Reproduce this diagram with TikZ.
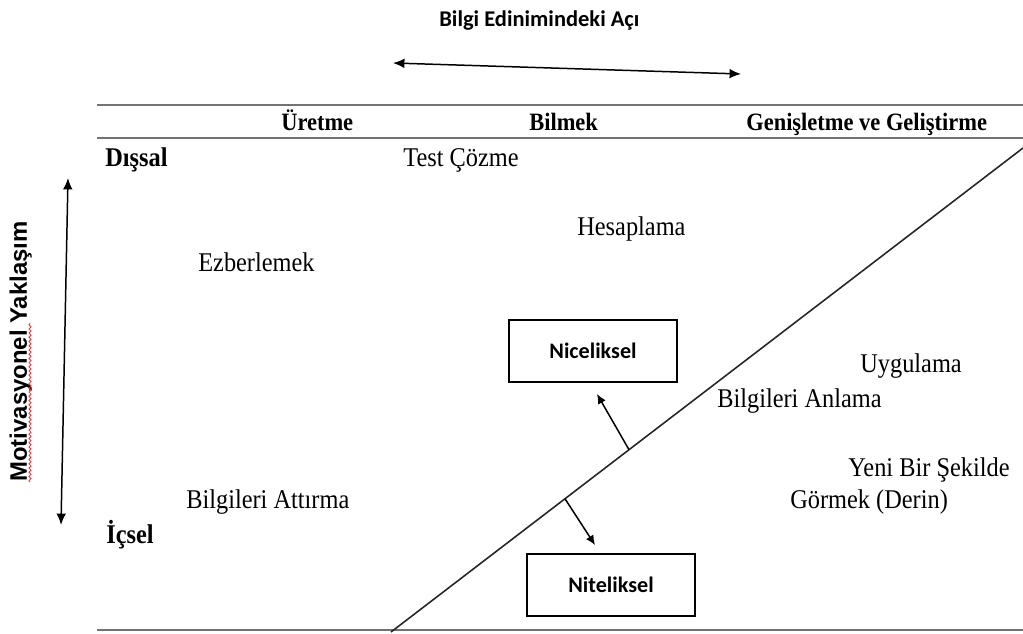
\documentclass[tikz,border=0pt]{standalone}
\usepackage{fontspec}
\setmainfont{Liberation Serif}
\newfontfamily\calibfont{Carlito}
\newfontfamily\arialfont{Liberation Sans}
\usetikzlibrary{arrows.meta,decorations.pathmorphing,calc}

\begin{document}
\begin{tikzpicture}[x=0.02cm,y=-0.02cm,
  txt/.style={font=\fontsize{15.4}{17}\selectfont, xscale=0.9, inner sep=0pt, anchor=base west},
  hdr/.style={font=\fontsize{14.2}{16}\selectfont\bfseries, xscale=0.9, inner sep=0pt, anchor=base west},
  rowlbl/.style={font=\fontsize{15.4}{17}\selectfont\bfseries, xscale=0.9, inner sep=0pt, anchor=base west},
  ttl/.style={font=\calibfont\fontsize{12.8}{15}\selectfont\bfseries, inner sep=0pt, anchor=base west},
  catbox/.style={draw, line width=0.75pt, minimum width=3.36cm, minimum height=1.24cm,
    inner sep=0pt, font=\calibfont\fontsize{12.6}{15}\selectfont\bfseries},
  rule/.style={draw=black!55, line width=1.1pt},
  dbl/.style={line width=0.85pt, {Latex[length=6.5pt,width=5.5pt]}-{Latex[length=6.5pt,width=5.5pt]}},
  arr/.style={line width=0.85pt, -{Latex[length=5.5pt,width=5pt]}}
]
\useasboundingbox (0,0) rectangle (1023,634);

% title and horizontal axis arrow
\node[ttl] (title) at (439,27) {Bilgi Edinimindeki Açı};
\coordinate (hL) at (393,63);
\coordinate (hR) at (741,74);
\draw[dbl] (hL) -- (hR);

% table rules
\coordinate (r1a) at (97,105);  \coordinate (r1b) at (1023,105);
\coordinate (r2a) at (97,138);  \coordinate (r2b) at (1023,138);
\coordinate (r3a) at (97,630);  \coordinate (r3b) at (1023,630);
\draw[rule] (r1a) -- (r1b);
\draw[rule] (r2a) -- (r2b);
\draw[rule] (r3a) -- (r3b);

% column headers
\node[hdr] (h1) at (281,131) {Üretme};
\node[hdr] (h2) at (529,131) {Bilmek};
\node[hdr] (h3) at (746,131) {Genişletme ve Geliştirme};

% row labels
\node[rowlbl] (dis) at (105,167) {Dışsal};
\node[rowlbl] (ic) at (106,543) {İçsel};

% vertical axis arrow and its label
\coordinate (vT) at (68,178);
\coordinate (vB) at (61,525);
\draw[dbl] (vT) -- (vB);
\node[font=\arialfont\fontsize{13.6}{16}\selectfont\bfseries, inner sep=0pt,
      rotate=90, anchor=base west] (mot) at (27,482) {Motivasyonel Yaklaşım};
\coordinate (sqA) at (30,482);
\coordinate (sqB) at (30,323);
\draw[red!85, line width=0.45pt, decorate,
      decoration={snake, amplitude=0.6pt, segment length=2.4pt}] (sqA) -- (sqB);

% activities
\node[txt] (test) at (403,167) {Test Çözme};
\node[txt] (hes) at (577,236) {Hesaplama};
\node[txt] (ezb) at (198,272) {Ezberlemek};
\node[txt] (att) at (186,508) {Bilgileri Attırma};
\node[txt] (uyg) at (860,373) {Uygulama};
\node[txt] (anl) at (717,407) {Bilgileri Anlama};
\node[txt] (yen) at (848,476) {Yeni Bir Şekilde};
\node[txt] (gor) at (790,508) {Görmek (Derin)};

% dividing diagonal
\coordinate (dA) at (391,632);
\coordinate (dB) at (1023,148);
\draw[line width=0.9pt, black!85] (dA) -- (dB);

% category boxes
\node[catbox] (nic) at (593,351) {Niceliksel};
\node[catbox] (nit) at (611,585) {Niteliksel};

% arrows from the diagonal towards the boxes
\coordinate (u0) at ($(dA)!0.3766!(dB)$);
\coordinate (u1) at (597,394);
\draw[arr] (u0) -- (u1);
\coordinate (w0) at ($(dA)!0.2753!(dB)$);
\coordinate (w1) at (595,545);
\draw[arr] (w0) -- (w1);
\end{tikzpicture}
\end{document}
